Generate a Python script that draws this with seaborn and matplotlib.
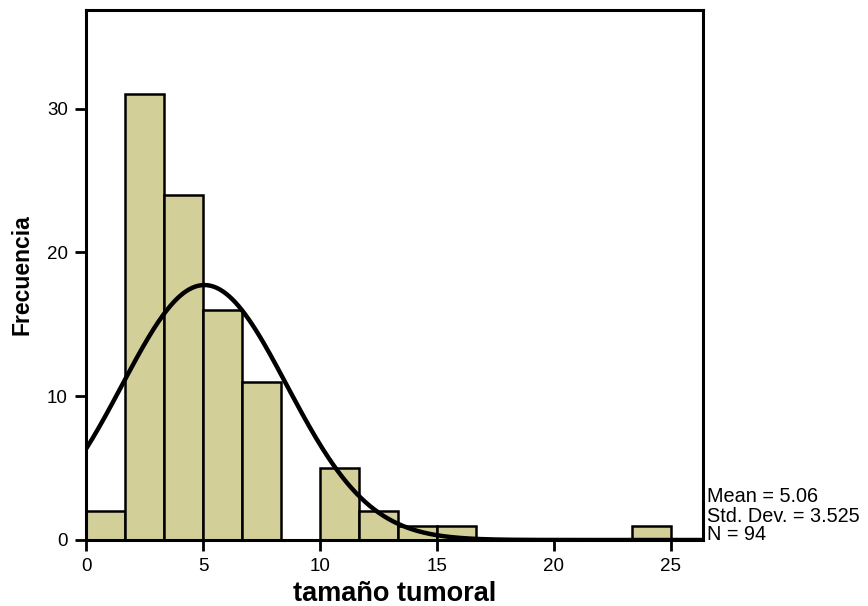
import numpy as np
import pandas as pd
import matplotlib
matplotlib.use("Agg")
import matplotlib.pyplot as plt
import seaborn as sns

# Data
bin_edges = [0, 1.667, 3.333, 5.0, 6.667, 8.333, 10.0, 11.667, 13.333, 15.0,
             16.667, 18.333, 20.0, 21.667, 23.333, 25.0]
counts = [2, 31, 24, 16, 11, 0, 5, 2, 1, 1, 0, 0, 0, 0, 1]
mean_val = 5.06
std_val = 3.525
n_val = 94
x_ticks = [0, 5, 10, 15, 20, 25]
y_ticks = [0, 10, 20, 30]

centers = [(bin_edges[i] + bin_edges[i + 1]) / 2 for i in range(len(counts))]
df = pd.DataFrame({"tamano": centers, "n": counts})

sns.set_theme(style="white")
plt.rcParams["font.family"] = ["Liberation Sans", "DejaVu Sans"]
plt.rcParams["text.color"] = "black"
plt.rcParams["axes.labelcolor"] = "black"

fig = plt.figure(figsize=(8.68, 6.06), dpi=100)
ax = fig.add_axes([86 / 868, 66 / 606, (703 - 86) / 868, (540 - 9.5) / 606])

sns.histplot(data=df, x="tamano", weights="n", bins=bin_edges, ax=ax,
             color="#D3CF99", alpha=1.0, edgecolor="black", linewidth=1.8)

bw = bin_edges[1] - bin_edges[0]
xs = np.linspace(0, 26.3, 400)
ys = n_val * bw / (std_val * np.sqrt(2 * np.pi)) * np.exp(-0.5 * ((xs - mean_val) / std_val) ** 2)
sns.lineplot(x=xs, y=ys, ax=ax, color="black", linewidth=3.2)

ax.set_xlim(0, 26.37)
ax.set_ylim(0, 36.9)
ax.set_xticks(x_ticks)
ax.set_yticks(y_ticks)
for s in ax.spines.values():
    s.set_visible(True)
    s.set_color("black")
    s.set_linewidth(2.2)
ax.tick_params(axis="both", direction="out", length=8, width=2, color="black",
               labelsize=13.5, labelcolor="black", pad=4)
ax.tick_params(axis="x", bottom=True, pad=5)
ax.tick_params(axis="y", left=True, pad=5)

ax.set_xlabel("tamaño tumoral", fontsize=19.5, fontweight="bold", labelpad=4, color="black")
ax.set_ylabel("Frecuencia", fontsize=16.5, fontweight="bold", labelpad=10, color="black",
              family=["Liberation Sans Narrow", "Liberation Sans", "DejaVu Sans"])

fig.text(707 / 868, 1 - 497 / 606, f"Mean = {mean_val}", fontsize=14.3, va="center", ha="left")
fig.text(707 / 868, 1 - 516 / 606, f"Std. Dev. = {std_val}", fontsize=14.3, va="center", ha="left")
fig.text(707 / 868, 1 - 535 / 606, f"N = {n_val}", fontsize=14.3, va="center", ha="left")

fig.savefig("out.png", dpi=100, facecolor="white")
